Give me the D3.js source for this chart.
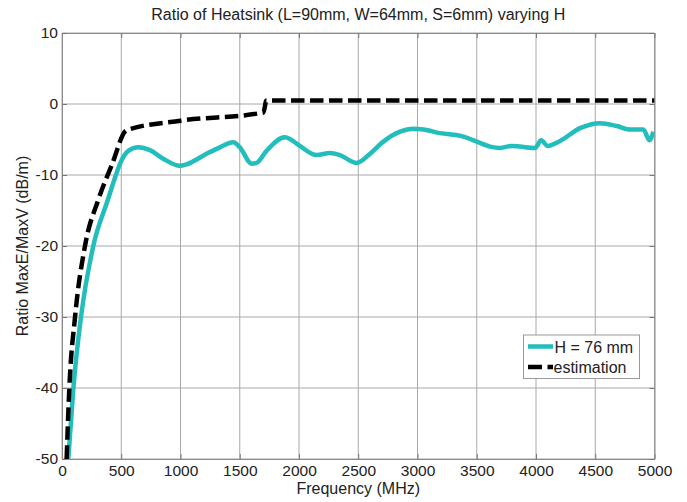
<!DOCTYPE html>
<html><head><meta charset="utf-8">
<script src="https://cdn.jsdelivr.net/npm/d3@7"></script>
<style>
body{margin:0;background:#fff;}
text{font-family:"Liberation Sans",Arial,Helvetica,sans-serif;fill:#222;}
</style></head>
<body><div id="chart"></div>
<script>
const title = "Ratio of Heatsink (L=90mm, W=64mm, S=6mm) varying H";
const xLabel = "Frequency (MHz)";
const yLabel = "Ratio MaxE/MaxV (dB/m)";
const xTicks = [0,500,1000,1500,2000,2500,3000,3500,4000,4500,5000];
const yTicks = [10,0,-10,-20,-30,-40,-50];
const seriesNames = ["H = 76 mm","estimation"];

const measFreq = [53,96,160,264,385,455,490,560,644,742,854,995,1051,1220,1332,1445,1501,1600,1642,1726,1880,1930,2007,2150,2262,2346,2487,2600,2712,2853,2965,3050,3190,3387,3500,3612,3697,3795,3865,3992,4043,4099,4203,4372,4541,4682,4794,4906,4957,4991];
const measVal  = [-50,-40,-30,-20,-13.6,-10,-8.4,-6.6,-6.1,-6.5,-7.7,-8.7,-8.5,-7.0,-6.1,-5.4,-6.1,-8.4,-8.3,-6.6,-4.7,-5.0,-5.9,-7.2,-6.9,-7.2,-8.3,-7.0,-5.3,-3.9,-3.5,-3.6,-4.1,-4.6,-5.3,-6.0,-6.2,-5.9,-6.0,-6.2,-5.1,-5.9,-5.2,-3.4,-2.7,-3.1,-3.6,-3.6,-5.1,-3.9];

const estFreq = [39,62,110,194,306,420,545,1000,1700,1725,5000];
const estVal  = [-50,-40,-30,-20,-13.5,-8.6,-3.7,-2.35,-1.2,0.5,0.5];

const W = 687, H = 502;
const m = {left:62, top:33, right:W-654.5, bottom:H-459};
const iw = W - m.left - m.right, ih = H - m.top - m.bottom;

const svg = d3.select("#chart").append("svg").attr("width",W).attr("height",H);
const x = d3.scaleLinear().domain([0,5000]).range([m.left, m.left+iw]);
const y = d3.scaleLinear().domain([-50,10]).range([m.top+ih, m.top]);

// grid
const grid = svg.append("g");
grid.selectAll("line.vx").data(xTicks).join("line")
  .attr("x1",d=>x(d)).attr("x2",d=>x(d)).attr("y1",m.top).attr("y2",m.top+ih)
  .attr("stroke","#a8a8a8").attr("stroke-width",1);
grid.selectAll("line.hy").data(yTicks).join("line")
  .attr("y1",d=>y(d)).attr("y2",d=>y(d)).attr("x1",m.left).attr("x2",m.left+iw)
  .attr("stroke","#a8a8a8").attr("stroke-width",1);

// axes (ticks inside)
const fmt = d => String(d);
const xa = svg.append("g").attr("transform",`translate(0,${m.top+ih})`)
  .call(d3.axisBottom(x).tickValues(xTicks).tickFormat(fmt).tickSizeInner(-5).tickSizeOuter(0).tickPadding(6));
const xt = svg.append("g").attr("transform",`translate(0,${m.top})`)
  .call(d3.axisTop(x).tickValues(xTicks).tickFormat("").tickSizeInner(-5).tickSizeOuter(0));
const ya = svg.append("g").attr("transform",`translate(${m.left},0)`)
  .call(d3.axisLeft(y).tickValues(yTicks).tickFormat(fmt).tickSizeInner(-5).tickSizeOuter(0).tickPadding(4));
const yr = svg.append("g").attr("transform",`translate(${m.left+iw},0)`)
  .call(d3.axisRight(y).tickValues(yTicks).tickFormat("").tickSizeInner(-5).tickSizeOuter(0));
[xa,xt,ya,yr].forEach(g=>{
  g.selectAll(".domain").attr("stroke","#8a8a8a");
  g.selectAll(".tick line").attr("stroke","#777");
  g.selectAll("text").attr("font-size",15.5).attr("fill","#222")
   .style("font-family",'"Liberation Sans",Arial,sans-serif');
});

// clip
svg.append("clipPath").attr("id","clip").append("rect")
  .attr("x",m.left).attr("y",m.top).attr("width",iw).attr("height",ih);

const line = d3.line().x(d=>x(d[0])).y(d=>y(d[1])).curve(d3.curveMonotoneX);
const meas = measFreq.map((f,i)=>[f,measVal[i]]);
const est = estFreq.map((f,i)=>[f,estVal[i]]);
const cyan = "#22bdbd";

const plot = svg.append("g").attr("clip-path","url(#clip)");
plot.append("path").datum(meas).attr("d",line)
  .attr("fill","none").attr("stroke",cyan).attr("stroke-width",4.5).attr("stroke-linejoin","round");
plot.append("path").datum(est).attr("d",line)
  .attr("fill","none").attr("stroke","#000").attr("stroke-width",4.5)
  .attr("stroke-dasharray","13.5,5.5").attr("stroke-linejoin","miter");

// title & labels
svg.append("text").attr("x",m.left+iw/2).attr("y",20).attr("text-anchor","middle")
  .attr("font-size",16).text(title);
svg.append("text").attr("x",m.left+iw/2).attr("y",494).attr("text-anchor","middle")
  .attr("font-size",16).text(xLabel);
svg.append("text").attr("transform",`translate(27.5,${m.top+ih/2}) rotate(-90)`)
  .attr("text-anchor","middle").attr("font-size",16).text(yLabel);

// legend
const lg = svg.append("g");
lg.append("rect").attr("x",523.5).attr("y",335).attr("width",116).attr("height",43.5)
  .attr("fill","#fff").attr("stroke","#999").attr("stroke-width",1);
lg.append("line").attr("x1",528).attr("x2",553).attr("y1",346.5).attr("y2",346.5)
  .attr("stroke",cyan).attr("stroke-width",4.5);
lg.append("line").attr("x1",528).attr("x2",553).attr("y1",367).attr("y2",367)
  .attr("stroke","#000").attr("stroke-width",4.5).attr("stroke-dasharray","14,5.5");
lg.append("text").attr("x",554.5).attr("y",352.5).attr("font-size",16).text(seriesNames[0]);
lg.append("text").attr("x",553.5).attr("y",373).attr("font-size",16).text(seriesNames[1]);
</script></body></html>
